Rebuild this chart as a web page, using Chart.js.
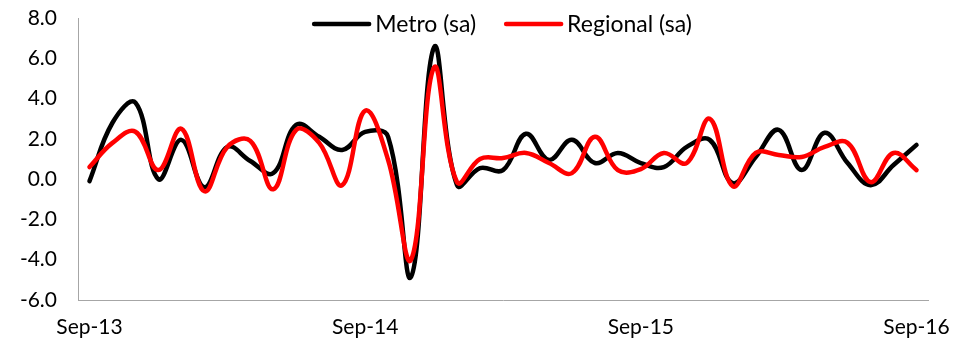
<!DOCTYPE html>
<html>
<head>
<meta charset="utf-8">
<title>Metro vs Regional (sa)</title>
<script src="https://cdn.jsdelivr.net/npm/chart.js@4.4.1/dist/chart.umd.min.js"></script>
<style>
  html, body { margin: 0; padding: 0; background: #fff; }
  #wrap { width: 967px; height: 339px; }
</style>
</head>
<body>
<div id="wrap"><canvas id="grafico" width="967" height="339"></canvas></div>
<script>
// Meses (Sep-13 a Sep-16)
const meses = [
  "Sep-13", "Oct-13", "Nov-13", "Dec-13", "Jan-14", "Feb-14", "Mar-14", "Apr-14", "May-14", "Jun-14", "Jul-14", "Aug-14",
  "Sep-14", "Oct-14", "Nov-14", "Dec-14", "Jan-15", "Feb-15", "Mar-15", "Apr-15", "May-15", "Jun-15", "Jul-15", "Aug-15",
  "Sep-15", "Oct-15", "Nov-15", "Dec-15", "Jan-16", "Feb-16", "Mar-16", "Apr-16", "May-16", "Jun-16", "Jul-16", "Aug-16",
  "Sep-16"
];

const metro = [
  -0.1, 2.8, 3.8, 0.0, 1.95, -0.4, 1.6, 0.9, 0.3, 2.7, 2.1, 1.45,
  2.35, 2.1, -4.85, 6.55, -0.3, 0.55, 0.45, 2.25, 0.95, 1.95, 0.8, 1.3,
  0.8, 0.6, 1.6, 1.95, -0.2, 1.1, 2.45, 0.45, 2.3, 0.8, -0.3, 0.7,
  1.7
];

const regional = [
  0.6, 1.8, 2.35, 0.45, 2.5, -0.6, 1.6, 1.9, -0.5, 2.45, 1.8, -0.3,
  3.4, 0.95, -4.0, 5.55, -0.15, 1.0, 1.05, 1.3, 0.8, 0.3, 2.1, 0.45,
  0.5, 1.3, 0.8, 3.0, -0.35, 1.3, 1.2, 1.1, 1.6, 1.8, -0.15, 1.3,
  0.45
];

const FUENTE = "Lato, 'Open Sans', sans-serif";
const GRIS = "#a6a6a6";

// Leyenda dibujada arriba, centrada sobre el área del gráfico
const leyenda = {
  id: "leyenda",
  afterDraw(chart) {
    const ctx = chart.ctx;
    const area = chart.chartArea;
    const largo = 55, hueco = 6, sep = 30, y = 24;
    ctx.save();
    ctx.font = "23px " + FUENTE;
    const items = chart.data.datasets.map(ds => ({
      texto: ds.label, color: ds.borderColor, ancho: ctx.measureText(ds.label).width
    }));
    const total = items.reduce((s, it) => s + largo + hueco + it.ancho, 0) + sep * (items.length - 1);
    let x = (area.left + area.right) / 2 - total / 2;
    items.forEach(it => {
      ctx.strokeStyle = it.color;
      ctx.lineWidth = 4.5;
      ctx.lineCap = "round";
      ctx.beginPath();
      ctx.moveTo(x, y);
      ctx.lineTo(x + largo, y);
      ctx.stroke();
      ctx.fillStyle = "#000";
      ctx.textBaseline = "middle";
      ctx.fillText(it.texto, x + largo + hueco, y + 1);
      x += largo + hueco + it.ancho + sep;
    });
    ctx.restore();
  }
};

new Chart(document.getElementById("grafico").getContext("2d"), {
  type: "line",
  data: {
    labels: meses,
    datasets: [
      { label: "Metro (sa)", data: metro, borderColor: "#000000", order: 1 },
      { label: "Regional (sa)", data: regional, borderColor: "#ff0000", order: 0 }
    ]
  },
  options: {
    responsive: false,
    animation: false,
    layout: { padding: { left: 0, right: 39, top: 18, bottom: 0 } },
    elements: {
      line: { borderWidth: 4.5, tension: 0.4, fill: false, borderCapStyle: "round", borderJoinStyle: "round" },
      point: { radius: 0 }
    },
    plugins: { legend: { display: false }, tooltip: { enabled: false } },
    scales: {
      x: {
        offset: true,
        grid: { display: false, drawTicks: false },
        border: { color: GRIS, width: 1 },
        afterFit: s => { s.height = 39; },
        ticks: {
          autoSkip: false,
          maxRotation: 0,
          padding: 15,
          color: "#000",
          font: { family: FUENTE, size: 21 },
          callback: (v, i) => (i % 12 === 0 ? meses[i] : "")
        }
      },
      y: {
        min: -6,
        max: 8,
        grid: { display: false, drawTicks: false },
        border: { color: GRIS, width: 1 },
        afterFit: s => {
          s.width = 78;
          // sin margen extra arriba/abajo por las etiquetas
          s.paddingTop = 0;
          s.paddingBottom = 0;
        },
        ticks: {
          stepSize: 2,
          padding: 21,
          color: "#000",
          font: { family: FUENTE, size: 21 },
          callback: v => v.toFixed(1)
        }
      }
    }
  },
  plugins: [leyenda]
});
</script>
</body>
</html>
